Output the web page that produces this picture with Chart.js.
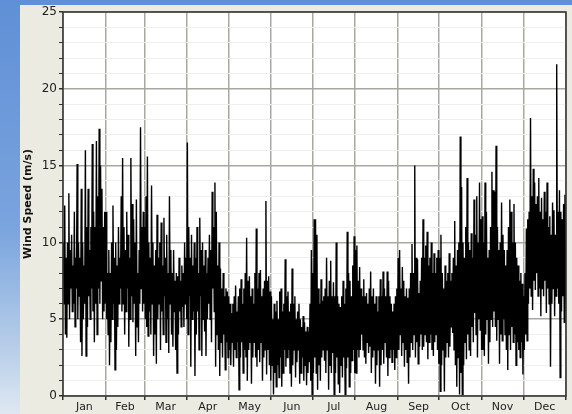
<!DOCTYPE html>
<html>
<head>
<meta charset="utf-8">
<script src="https://cdn.jsdelivr.net/npm/chart.js@4.4.1/dist/chart.umd.min.js"></script>
<style>
  html, body { margin: 0; padding: 0; }
  body {
    width: 572px; height: 414px; overflow: hidden; position: relative;
    background: linear-gradient(180deg, #5f8fd6 0%, #7aa4de 55%, #b9cfe9 85%, #dfe8f2 100%);
  }
  #panel {
    position: absolute; left: 20px; top: 5px; width: 552px; height: 409px;
    background: #ecebe2;
  }
  #wrap { position: absolute; left: 0; top: 0; width: 572px; height: 414px; }
</style>
</head>
<body>
<div id="panel"></div>
<div id="wrap"><canvas id="chart"></canvas></div>
<script>
var monthNames = ['Jan', 'Feb', 'Mar', 'Apr', 'May', 'Jun', 'Jul', 'Aug', 'Sep', 'Oct', 'Nov', 'Dec'];
var monthDays = [31, 28, 31, 30, 31, 30, 31, 31, 30, 31, 30, 31];
var yTicks = [0, 5, 10, 15, 20, 25];

// daily maximum wind speed (m/s)
var windHigh = [
    10, 12.4, 9, 10, 13.2, 9.5, 10.5, 8.5, 12, 9, 15.1, 10, 9, 13.5, 10, 8.5, 16, 11, 13.5, 9.5, 11, 16.4, 12, 11, 16.6, 13, 17.4, 15, 13.5, 11, 12, // jan
    12, 8, 9.5, 8, 10, 12.4, 9, 10, 8.5, 11, 9, 13, 15.5, 11, 9.5, 12, 10.5, 9, 15.5, 12.5, 11.5, 10, 12.8, 8, 9.5, 17.5, 11, 12, // feb
    11, 13, 15.6, 10, 9, 13.7, 10, 8.5, 9.5, 11.8, 9, 10, 11.3, 8.5, 11.6, 9, 10.5, 8, 13, 9.5, 8, 9.5, 7.5, 8, 7.8, 9, 7.5, 8.5, 8, 10, 9, // mar
    16.5, 11, 9, 10.5, 8.5, 10, 9, 11, 8, 11.6, 9.5, 10, 8.5, 9.5, 8, 9, 10.5, 9.5, 13.3, 11, 13.9, 12, 8.5, 10, 8.3, 7, 8, 6.5, 7, 6.8, // apr
    6.5, 6, 5.4, 6, 6.5, 7.2, 5.5, 6.5, 7, 7.6, 6, 7, 8, 10.3, 7.5, 7.8, 6.5, 7, 6, 8, 10.9, 7, 8, 8.2, 6.5, 7, 7.5, 12.7, 7.5, 7.8, 6.8, // may
    6.5, 5, 6, 5.5, 6.2, 5, 6.8, 7, 5.5, 6, 8.9, 6.5, 6.8, 5.5, 6, 8.3, 6, 6.5, 5, 5.5, 6, 5, 4.5, 5.2, 4.8, 4.2, 4.5, 4.2, 6, 9.5, // jun
    8, 11.5, 11.5, 10.5, 7, 6, 7.6, 6.2, 6.5, 7, 9, 6.5, 7.5, 8.8, 6.5, 7.4, 6.5, 10, 6.5, 6, 5.8, 6.5, 7.5, 6, 7, 10.7, 8, 7.5, 6.5, 8.5, 10.4, // jul
    9.5, 9.8, 7.5, 8.4, 7, 6.5, 7.6, 6.5, 6.7, 6, 7, 8.1, 6.5, 7, 6, 6.5, 5.5, 6.5, 7.6, 6.5, 8.1, 7, 6.5, 8.1, 7.5, 6.5, 6, 5.5, 6, 6.5, 7, // aug
    9, 9.5, 7, 8.4, 7.5, 6.5, 7, 6.4, 7, 8, 9.9, 8, 15, 9, 8.9, 6.7, 7.5, 9, 11.5, 9, 9.8, 10.7, 8.5, 9, 10, 8, 9.3, 8, 9, 9.5, // sep
    9, 10.5, 8, 7, 8.5, 7.5, 8, 9.3, 7.5, 8, 9, 11.4, 8.5, 9.5, 10, 16.9, 13.6, 10, 9, 11, 14.2, 10, 9.5, 10.6, 9, 12.8, 10.5, 13, 10, 13.9, 11.5, // oct
    11.7, 10, 13.9, 12, 9, 9.5, 11, 14.6, 13.4, 13.3, 16.3, 11, 9.5, 10, 12.6, 10.5, 9.5, 8.5, 9.5, 11, 12.8, 12, 10, 12.5, 10, 9, 8.5, 7.5, 8, 7.3, // nov
    6.5, 8, 10.9, 11.5, 12, 18.1, 13, 14.8, 13.9, 12.5, 13, 14.2, 12, 12.9, 11.5, 13.3, 12, 13.9, 11, 11.7, 10.5, 12.6, 12.1, 10.5, 21.6, 12, 13.4, 12, 11.5, 12.5, 13.1 // dec
];

// daily minimum wind speed (m/s)
var windLow = [
    6, 4, 3.8, 6, 5, 7, 5.5, 6, 4.5, 7, 5, 6.5, 3.5, 2.6, 5, 6, 2.6, 4.5, 6.5, 5, 7, 5.5, 3.5, 6, 4, 7, 6, 7.5, 5, 5.5, 6,
    5, 4, 2.0, 3.5, 5, 6, 1.7, 3, 4.5, 6, 7, 5.5, 6, 4, 5.5, 7, 3.2, 5, 6.5, 4.8, 6, 2.6, 4.5, 3.5, 6, 7, 5.5, 6,
    5, 4.5, 3.9, 5.5, 4, 6, 2.6, 4, 2.1, 5, 6, 3, 5.5, 4, 6.5, 3.5, 5, 2.8, 6, 4, 3.2, 5.5, 3, 1.5, 4, 5.5, 4.5, 5.8, 4.5, 6, 5,
    4, 6.5, 1.9, 5, 5.5, 1.3, 4, 5.5, 3, 6.5, 2.6, 5, 4.2, 2.6, 5, 6, 5, 3.5, 7, 5.5, 1.9, 4, 3, 1.3, 3.5, 2.5, 4, 1.7, 3.5, 2.5,
    3, 2, 3.5, 1.9, 3, 2.5, 3.5, 0.4, 2.5, 3.5, 1.5, 3, 2.5, 1, 3, 3.5, 0.8, 2.5, 3.5, 2.5, 1.9, 3, 2.2, 3.5, 1, 2.5, 3, 1.4, 3, 2, 1,
    2, 0.1, 1.5, 0.6, 2, 1.2, 2.5, 0.6, 1.5, 3, 1.9, 2.5, 3, 1.5, 0.6, 2, 3, 1.2, 2.2, 3, 0.8, 1.5, 2.5, 1, 2, 0.7, 1.5, 2.2, 1, 0.1,
    1.5, 2.5, 1.5, 0.4, 2, 1, 2.5, 3, 2.3, 1.5, 3, 0.4, 2, 1.5, 2.8, 0.1, 1.5, 2.5, 0.8, 0.2, 2, 1.2, 2.5, 0.1, 1.8, 2.5, 0.6, 1.5, 2.3, 3, 1.5,
    1.5, 3, 2.5, 3, 4, 3, 2.5, 2.1, 3.5, 2.8, 3.2, 1.5, 2.5, 3, 0.8, 2, 3, 0.6, 2, 3, 2.1, 3.5, 2.5, 1.3, 2.5, 3, 2.2, 3, 1.7, 2.5, 3,
    3, 4, 2.6, 3.5, 1.9, 3, 2.2, 0.8, 2.5, 3.5, 3, 4, 2.5, 3.5, 2.1, 3.2, 4, 3, 3.2, 4, 3.5, 2.4, 3.5, 4, 3, 2.6, 3.5, 4, 3, 2.1,
    0.3, 2, 3, 0.3, 2.5, 3.5, 2.5, 3.2, 4.5, 4.1, 3, 2, 0.6, 2.5, 0.1, 1.5, 0.1, 2, 3.5, 2.4, 4, 3, 2.6, 4.5, 3.5, 5.4, 4, 2.5, 5, 4.3, 3,
    3, 2.6, 4, 5, 2.1, 3.5, 5, 4.5, 5.5, 4.5, 3.6, 5, 2.1, 4, 3.6, 5, 4, 3, 1.7, 4, 3, 4.5, 3.5, 4, 2, 3.5, 3, 2.5, 3.5, 1.4,
    3, 4, 3.6, 6, 7, 6.5, 5.6, 7.5, 6.9, 8, 6.5, 7, 5.2, 7, 6.5, 7.5, 5.4, 7, 6, 1.9, 6, 7, 5.2, 6.5, 7, 6, 1.2, 5.5, 6.5, 4.8, 6
];

// month boundaries (in days) and label positions
var bounds = [0];
var mids = [];
for (var m = 0; m < monthDays.length; m++) {
    mids.push(bounds[m] + monthDays[m] / 2);
    bounds.push(bounds[m] + monthDays[m]);
}
function isBound(v) { return bounds.indexOf(v) >= 0; }

var points = [];
for (var i = 0; i < windHigh.length; i++) {
    points.push({ x: i + 0.25, y: windHigh[i] });
    points.push({ x: i + 0.75, y: windLow[i] });
}

var plotFrame = {
    id: 'plotFrame',
    beforeDraw: function (chart) {
        var a = chart.chartArea, c = chart.ctx;
        c.save();
        c.fillStyle = '#ffffff';
        c.fillRect(a.left, a.top, a.right - a.left, a.bottom - a.top);
        c.restore();
    },
    afterDraw: function (chart) {
        var a = chart.chartArea, c = chart.ctx;
        c.save();
        c.strokeStyle = '#303030';
        c.lineWidth = 1.5;
        c.strokeRect(a.left, a.top, a.right - a.left, a.bottom - a.top);
        c.restore();
    }
};

Chart.defaults.font.family = '"DejaVu Sans", Verdana, sans-serif';
Chart.defaults.font.size = 11;

var ctx = document.getElementById('chart').getContext('2d');
var chart = new Chart(ctx, {
    type: 'line',
    data: {
        datasets: [{
            label: 'Wind Speed',
            data: points,
            borderColor: '#000000',
            borderWidth: 1.4,
            pointRadius: 0,
            tension: 0,
            fill: false
        }]
    },
    options: {
        responsive: true,
        maintainAspectRatio: false,
        animation: false,
        parsing: false,
        normalized: true,
        layout: { padding: { left: 20, top: 12, right: 6, bottom: 0 } },
        plugins: {
            legend: { display: false },
            tooltip: { enabled: false }
        },
        scales: {
            x: {
                type: 'linear',
                min: 0,
                max: 365,
                afterBuildTicks: function (scale) {
                    scale.ticks = bounds.concat(mids).sort(function (a, b) { return a - b; })
                        .map(function (v) { return { value: v }; });
                },
                afterFit: function (scale) { scale.height = 18; },
                grid: {
                    color: function (c) { return c.tick && isBound(c.tick.value) ? '#a9a8a0' : 'rgba(0,0,0,0)'; },
                    tickColor: function (c) { return c.tick && isBound(c.tick.value) ? '#303030' : 'rgba(0,0,0,0)'; },
                    lineWidth: 1.5,
                    tickLength: 4
                },
                border: { display: false },
                ticks: {
                    autoSkip: false,
                    maxRotation: 0,
                    padding: 1,
                    color: '#222',
                    callback: function (v) {
                        var k = mids.indexOf(v);
                        return k >= 0 ? monthNames[k] : '';
                    }
                }
            },
            y: {
                min: 0,
                max: 25,
                afterBuildTicks: function (scale) {
                    var t = [];
                    for (var v = 0; v <= 25; v++) t.push({ value: v });
                    scale.ticks = t;
                },
                afterFit: function (scale) { scale.width = 43; },
                grid: {
                    color: function (c) { return c.tick && c.tick.value % 5 === 0 ? '#a9a8a0' : '#efefef'; },
                    lineWidth: function (c) { return c.tick && c.tick.value % 5 === 0 ? 1.5 : 1; },
                    tickColor: '#303030',
                    tickLength: 4
                },
                border: { display: false },
                title: {
                    display: true,
                    text: 'Wind Speed (m/s)',
                    color: '#111',
                    font: { weight: 'bold', size: 11 },
                    padding: { top: 2, bottom: 0 }
                },
                ticks: {
                    autoSkip: false,
                    padding: 2,
                    color: '#222',
                    font: { size: 12 },
                    callback: function (v) { return yTicks.indexOf(v) >= 0 ? v : ''; }
                }
            }
        }
    },
    plugins: [plotFrame]
});
</script>
</body>
</html>
